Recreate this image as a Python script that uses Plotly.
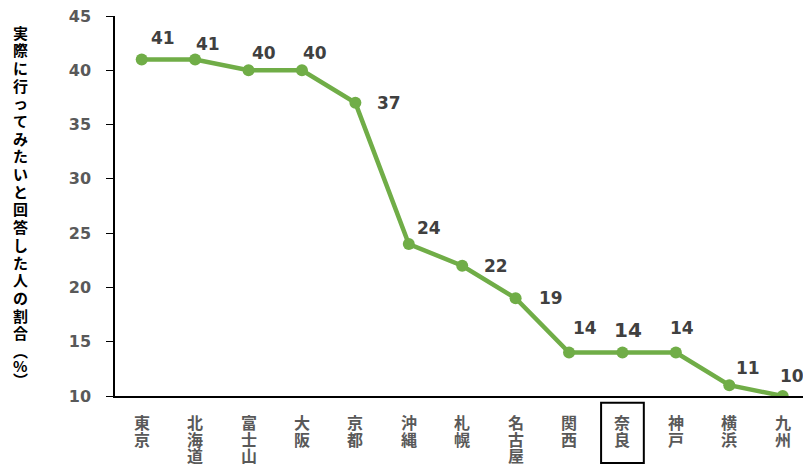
import plotly.graph_objects as go

categories = ["東京", "北海道", "富士山", "大阪", "京都", "沖縄", "札幌", "名古屋", "関西", "奈良", "神戸", "横浜", "九州"]
values = [41, 41, 40, 40, 37, 24, 22, 19, 14, 14, 14, 11, 10]
y_title = "実際に行ってみたいと回答した人の割合（%）"
highlight = "奈良"

# label offsets (pixels) relative to each point: (dx, dy up)
label_offsets = [(21, 21), (13, 15), (15, 17), (13, 17), (34, 0), (20, 16), (34, 0),
                 (35, 0), (16, 25), (6, 23), (6, 25), (19, 17), (9, 20)]

GREEN = "#70AD47"
LABEL = "#404040"
TICK = "#595959"
NUM_FONT = "DejaVu Sans"
CJK_FONT = "Noto Sans CJK JP"

x_idx = list(range(len(categories)))

fig = go.Figure()
fig.add_trace(go.Scatter(
    x=x_idx, y=values, mode="lines+markers",
    line=dict(color=GREEN, width=4.5),
    marker=dict(color=GREEN, size=12),
    hoverinfo="skip", showlegend=False,
))

annotations = []
# data labels
for i, (v, (dx, dy)) in enumerate(zip(values, label_offsets)):
    big = categories[i] == highlight
    annotations.append(dict(
        x=i, y=v, xref="x", yref="y", text=f"<b>{v}</b>", showarrow=False,
        xanchor="center", yanchor="middle", xshift=dx, yshift=dy,
        font=dict(family=NUM_FONT, size=20 if big else 17, color=LABEL),
    ))

# vertical category labels (stacked characters)
for i, cat in enumerate(categories):
    for j, ch in enumerate(cat):
        annotations.append(dict(
            x=i, y=0, xref="x", yref="paper", text=f"<b>{ch}</b>", showarrow=False,
            xanchor="center", yanchor="middle", yshift=-(26 + j * 16.5),
            font=dict(family=CJK_FONT, size=16, color=TICK),
        ))

# vertical y-axis title
vert_map = {"（": "︵", "）": "︶"}
shift = 0.0
for j, ch in enumerate(y_title):
    c = vert_map.get(ch, ch)
    annotations.append(dict(
        x=0, y=1, xref="paper", yref="paper", text=f"<b>{c}</b>", showarrow=False,
        xanchor="center", yanchor="middle", xshift=-95, yshift=-(16 + shift),
        font=dict(family=CJK_FONT, size=15, color="black"),
    ))
    shift += 17.7 if ch not in "（%）" else 14.5

hi = categories.index(highlight)
fig.update_layout(
    width=803, height=468,
    margin=dict(l=115, r=0, t=16, b=72),
    plot_bgcolor="white", paper_bgcolor="white",
    annotations=annotations,
    shapes=[dict(type="rect", xref="x", yref="paper",
                 x0=hi - 0.4, x1=hi + 0.4, y0=-0.176, y1=-0.018,
                 line=dict(color="black", width=2), fillcolor="rgba(0,0,0,0)")],
    xaxis=dict(range=[-0.5, 12.38], showticklabels=False, ticks="",
               showline=True, linecolor="black", linewidth=1.5,
               showgrid=False, zeroline=False, fixedrange=True),
    yaxis=dict(range=[10, 45], dtick=5, tick0=10, ticks="outside", ticklen=7,
               tickcolor="black", showline=True, linecolor="black", linewidth=1.5,
               showgrid=False, zeroline=False, ticklabelstandoff=12,
               tickfont=dict(family=NUM_FONT, size=16, color=TICK, weight="bold"),
               fixedrange=True),
)

fig.write_html(
    "out.html",
    config={"displayModeBar": False},
    post_script="document.body.style.margin='0';document.body.style.overflow='hidden';",
)
